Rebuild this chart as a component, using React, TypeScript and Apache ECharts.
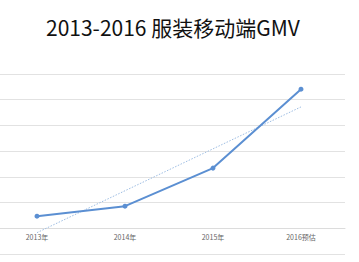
import React, { useEffect, useRef } from "react";
import * as echarts from "echarts";

const categories = ["2013年", "2014年", "2015年", "2016预估"];
const gmv = [0.47, 0.86, 2.34, 5.41];
const trend = [-0.17, 1.46, 3.09, 4.72];

export default function App() {
  const ref = useRef<HTMLDivElement>(null);
  useEffect(() => {
    const chart = echarts.init(ref.current!, null, { renderer: "svg" });
    chart.setOption({
      animation: false,
      title: {
        text: "2013-2016 服装移动端GMV",
        left: 41,
        top: 11,
        textStyle: {
          fontFamily: "'Noto Sans CJK SC', sans-serif",
          fontWeight: "normal",
          fontSize: 21,
          color: "#111",
        },
      },
      grid: {
        left: -7,
        right: 14,
        top: 74,
        bottom: 8,
        containLabel: false,
        outerBoundsMode: "none",
      },
      xAxis: {
        type: "category",
        data: categories,
        boundaryGap: true,
        offset: -26,
        axisLine: { onZero: false, lineStyle: { color: "#dcdcdc", width: 1 } },
        axisTick: { show: false },
        axisLabel: {
          fontSize: 7,
          color: "#666",
          margin: 5,
          fontFamily: "'Noto Sans CJK SC', sans-serif",
        },
      },
      yAxis: {
        type: "value",
        min: -1,
        max: 6,
        interval: 1,
        axisLabel: { show: false },
        axisLine: { show: false },
        axisTick: { show: false },
        splitLine: { lineStyle: { color: "#e2e2e2", width: 1 } },
      },
      series: [
        {
          type: "line",
          data: trend,
          symbol: "none",
          clip: false,
          lineStyle: { color: "#9dbde3", width: 1, type: [1.5, 1.5] },
        },
        {
          type: "line",
          data: gmv,
          symbol: "circle",
          symbolSize: 5,
          itemStyle: { color: "#5b8fd2" },
          lineStyle: { color: "#5b8fd2", width: 2 },
        },
      ],
    });
    return () => chart.dispose();
  }, []);
  return <div ref={ref} style={{ width: 359, height: 262, position: "absolute", left: 0, top: 0 }} />;
}
